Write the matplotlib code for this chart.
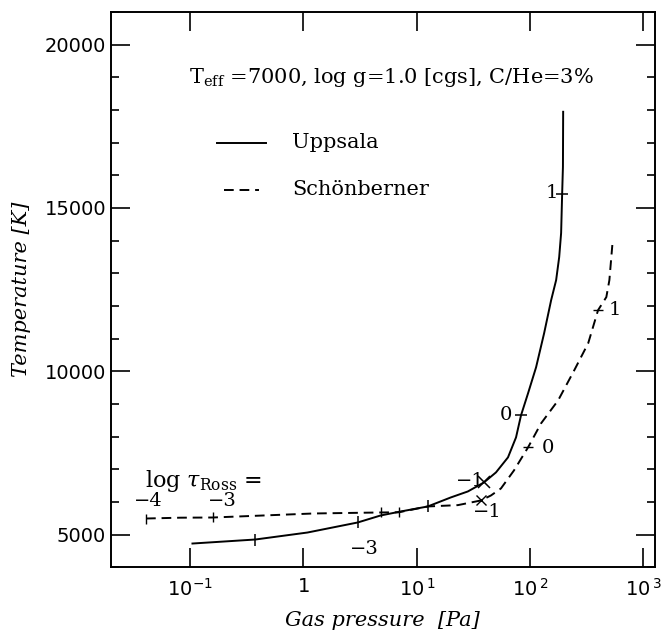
import numpy as np
import matplotlib
matplotlib.use('Agg')
import matplotlib.pyplot as plt
from matplotlib.ticker import FixedLocator, MultipleLocator

# Uppsala model (solid), log10 of gas pressure [Pa] and temperature [K]
ups_logp = [-0.98, -0.425, 0.035, 0.478, 0.681, 0.858, 1.097, 1.30, 1.451, 1.593, 1.699,
            1.805, 1.876, 1.92, 1.982, 2.053, 2.124, 2.186, 2.230, 2.257, 2.274, 2.283,
            2.290, 2.292]
ups_t = [4724, 4847, 5061, 5368, 5583, 5705, 5859, 6135, 6319, 6595, 6902,
         7362, 7975, 8650, 9324, 10122, 11165, 12178, 12791, 13497, 14234, 15430,
         16257, 17945]
# Schoenberner model (dashed)
sch_logp = [-1.39, -1.088, -0.80, 0.088, 0.68, 0.84, 1.097, 1.363, 1.566, 1.655, 1.743,
            1.858, 1.982, 2.097, 2.248, 2.39, 2.513, 2.60, 2.673, 2.70, 2.726]
sch_t = [5490, 5515, 5521, 5644, 5675, 5680, 5859, 5900, 6043, 6196, 6411,
         6963, 7668, 8404, 9110, 10030, 10858, 11870, 12270, 12791, 13865]

# log tau_Ross marks along the curves
ups_mark_logp = [-0.425, 0.478, 1.097, 1.593, 1.92, 2.283]
ups_mark_t = [4847, 5368, 5859, 6595, 8650, 15430]
sch_mark_logp = [-1.39, -0.80, 0.68, 0.84, 1.566, 1.982, 2.60]
sch_mark_t = [5490, 5521, 5675, 5680, 6043, 7668, 11870]

plt.rcParams['font.family'] = 'DejaVu Serif'
plt.rcParams['mathtext.fontset'] = 'dejavuserif'
fig = plt.figure(figsize=(6.64, 6.33), dpi=100)
ax = fig.add_axes([0.167, 0.104, 0.819, 0.877])

ax.plot(10 ** np.array(ups_logp), ups_t, 'k-', lw=1.4)
ax.plot(10 ** np.array(sch_logp), sch_t, 'k--', lw=1.4, dashes=(5, 3))

# tick marks on curves
for lp, t in zip(ups_mark_logp, ups_mark_t):
    m = '_' if lp > 1.8 else '|'
    if abs(lp - 1.593) < 0.01:
        m = 'x'
    ax.plot(10 ** lp, t, color='k', marker=m, ms=9, mew=1.1)
for lp, t in zip(sch_mark_logp, sch_mark_t):
    m = '_' if lp > 1.8 else '|'
    if abs(lp - 1.566) < 0.01:
        m = 'x'
    ax.plot(10 ** lp, t, color='k', marker=m, ms=7, mew=1.0)

fs = 14
ax.text(10 ** 0.54, 4550, '\u22123', fontsize=fs, ha='center', va='center')
ax.text(10 ** 1.47, 6650, '\u22121', fontsize=fs, ha='center', va='center')
ax.text(10 ** 1.79, 8650, '0', fontsize=fs, ha='center', va='center')
ax.text(10 ** 2.19, 15460, '1', fontsize=fs, ha='center', va='center')
ax.text(10 ** -1.37, 6020, '\u22124', fontsize=fs, ha='center', va='center')
ax.text(10 ** -0.72, 6020, '\u22123', fontsize=fs, ha='center', va='center')
ax.text(10 ** 1.62, 5680, '\u22121', fontsize=fs, ha='center', va='center')
ax.text(10 ** 2.16, 7640, '0', fontsize=fs, ha='center', va='center')
ax.text(10 ** 2.75, 11870, '1', fontsize=fs, ha='center', va='center')

ax.text(10 ** -1.40, 6650, r'log $\tau_{\rm Ross}$ =', fontsize=16, ha='left', va='center')
ax.text(10 ** -1.01, 19000, r'T$_{\rm eff}$ =7000, log g=1.0 [cgs], C/He=3%', fontsize=15,
        ha='left', va='center')

# hand drawn legend
ax.plot([10 ** -0.76, 10 ** -0.33], [17000, 17000], 'k-', lw=1.4)
ax.text(10 ** -0.10, 17000, 'Uppsala', fontsize=15, ha='left', va='center')
ax.plot([10 ** -0.70, 10 ** -0.39], [15550, 15550], 'k--', lw=1.4, dashes=(5, 3))
ax.text(10 ** -0.10, 15550, 'Sch\u00f6nberner', fontsize=15, ha='left', va='center')

ax.set_xscale('log')
ax.set_xlim(10 ** -1.70, 10 ** 3.10)
ax.set_ylim(4000, 21000)
ax.xaxis.set_major_locator(FixedLocator([0.1, 1, 10, 100, 1000]))
ax.xaxis.set_minor_locator(FixedLocator([]))
ax.set_xticklabels([r'$\mathsf{10^{-1}}$', r'$\mathsf{1}$', r'$\mathsf{10^{\,1}}$',
                    r'$\mathsf{10^{\,2}}$', r'$\mathsf{10^{\,3}}$'])
ax.yaxis.set_major_locator(FixedLocator([5000, 10000, 15000, 20000]))
ax.yaxis.set_minor_locator(MultipleLocator(1000))
ax.tick_params(which='both', direction='in', top=True, right=True, width=1.2, labelsize=14)
ax.tick_params(which='major', length=14)
ax.tick_params(which='minor', length=6)
ax.tick_params(axis='x', pad=8)
for lab in ax.get_yticklabels():
    lab.set_family('DejaVu Sans')
for s in ax.spines.values():
    s.set_linewidth(1.4)

ax.set_xlabel('Gas pressure  [Pa]', fontsize=15, style='italic', labelpad=8)
ax.set_ylabel('Temperature [K]', fontsize=15, style='italic', labelpad=10)

fig.savefig('out.png', dpi=100)
